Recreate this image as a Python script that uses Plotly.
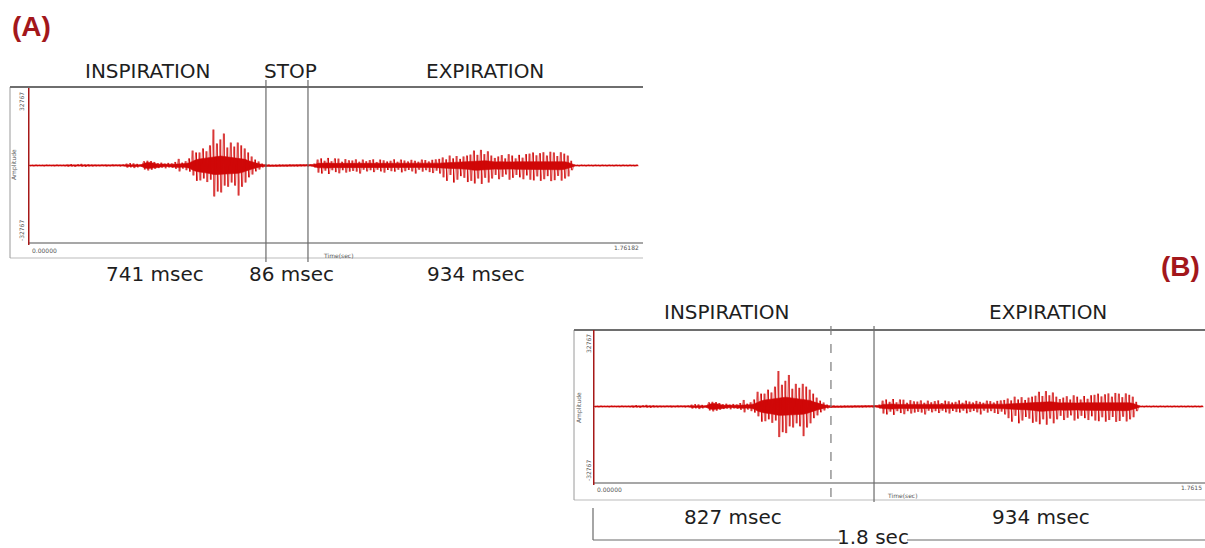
import plotly.graph_objects as go

# ---------------- data ----------------
# Breath-sound recording, in thousands of amplitude units,
# one entry per 10 ms bin: upper / lower spike extremes and the dense core amplitude.
bin_sec = 0.01
t_end = 1.76182
amp_max = 32.767  # thousands (32767)

upper = [
    0.2, 0.2, 0.3, 0.2, 0.2, 0.3, 0.2, 0.2, 0.3, 0.2, 0.2,
    0.4, 0.6, 0.3, 0.5, 0.7, 0.4, 0.5, 0.3,
    0.3, 0.2, 0.3, 0.3, 0.2, 0.4, 0.3, 0.3, 0.4,
    0.8, 1.0, 0.9, 0.7,
    0.4,
    1.8, 2.0, 1.9, 1.5,
    1.0, 1.2, 0.8, 1.1, 0.9,
    1.5, 2.8, 1.2, 1.8, 3.0,
    6.3, 5.5, 5.5, 7.2, 6.0, 8.5, 15.2, 9.3, 11.0, 13.5, 7.6, 9.7, 8.0, 9.7, 8.5, 7.2, 5.5, 3.8, 2.5, 1.7, 0.8,
    0.3, 0.4, 0.3, 0.3, 0.4, 0.3, 0.3, 0.4, 0.3, 0.3, 0.4, 0.3, 0.3, 0.4,
    0.8,
    2.5, 3.0, 2.0, 3.2, 1.8, 3.0, 2.9, 1.6, 2.7, 2.2,
    2.1, 2.6, 1.6, 2.5, 1.8, 2.3, 2.6, 1.5, 2.5, 2.2, 1.7, 2.0, 2.6, 1.6, 2.5, 2.1, 1.7, 2.4, 2.0, 1.6, 2.5, 2.3, 1.7, 2.4, 2.6, 2.8,
    3.4, 2.6, 4.2, 3.0, 4.0, 2.8, 3.8, 4.2, 4.6,
    6.3, 4.5, 6.6, 4.8, 6.0,
    4.2, 3.2, 3.8, 4.4, 3.0, 4.8, 4.2, 3.0, 4.5, 3.3, 4.8, 5.0,
    5.5, 4.3, 5.2, 5.6, 4.2, 5.8, 5.5, 4.0, 5.6, 5.0, 4.2,
    2.0,
    0.3, 0.2, 0.3, 0.2, 0.3, 0.2, 0.3, 0.2, 0.3, 0.2, 0.3, 0.2, 0.3, 0.2, 0.3, 0.2, 0.3, 0.2, 0.3,
]
lower = [
    0.2, 0.3, 0.2, 0.2, 0.3, 0.2, 0.2, 0.3, 0.2, 0.2, 0.3,
    0.5, 0.4, 0.6, 0.3, 0.5, 0.6, 0.4, 0.4,
    0.3, 0.3, 0.2, 0.4, 0.3, 0.3, 0.2, 0.4, 0.3,
    0.9, 0.8, 1.1, 0.8,
    0.4,
    1.7, 2.1, 1.8, 1.4,
    1.1, 0.9, 1.2, 0.8, 1.0,
    1.4, 2.5, 1.3, 2.0, 2.6,
    4.2, 6.5, 6.3, 5.5, 7.0, 6.0, 13.1, 11.0, 11.4, 8.5, 9.0, 7.2, 8.5, 12.7, 9.0, 7.2, 5.0, 3.8, 2.5, 1.7, 0.8,
    0.4, 0.3, 0.3, 0.4, 0.3, 0.3, 0.4, 0.3, 0.3, 0.4, 0.3, 0.3, 0.4, 0.3,
    0.8,
    3.0, 3.4, 2.2, 3.6, 2.0, 2.8, 3.3, 2.0, 3.0, 2.6,
    2.3, 2.6, 3.4, 1.8, 2.5, 2.0, 2.8, 1.8, 2.5, 3.0, 1.9, 2.4, 2.6, 1.8, 2.9, 2.4, 1.9, 2.5, 3.4, 1.8, 2.6, 2.0, 2.8, 3.2, 2.2, 3.4,
    5.0, 6.5, 4.0, 7.2, 6.0, 4.5, 5.2, 7.0, 6.5,
    7.6, 5.5, 7.8, 5.2, 7.2,
    5.5, 4.0, 5.8, 4.8, 3.8, 6.0, 5.2, 4.0, 5.0, 5.8, 4.2, 6.0,
    6.3, 4.6, 6.5, 5.8, 4.5, 6.6, 6.2, 4.4, 6.4, 5.5, 4.6,
    2.0,
    0.2, 0.3, 0.2, 0.3, 0.2, 0.3, 0.2, 0.3, 0.2, 0.3, 0.2, 0.3, 0.2, 0.3, 0.2, 0.3, 0.2, 0.3, 0.2,
]
core = [
    0.2, 0.2, 0.2, 0.2, 0.2, 0.2, 0.2, 0.2, 0.2, 0.2, 0.2,
    0.3, 0.3, 0.3, 0.3, 0.3, 0.3, 0.3, 0.3,
    0.2, 0.2, 0.2, 0.2, 0.2, 0.2, 0.2, 0.2, 0.2,
    0.4, 0.5, 0.5, 0.4,
    0.3,
    1.0, 1.3, 1.2, 0.8,
    0.5, 0.6, 0.4, 0.5, 0.5,
    0.6, 0.8, 0.6, 0.8, 1.2,
    2.0, 2.5, 2.8, 3.0, 3.2, 3.4, 3.8, 3.8, 4.0, 3.8, 3.6, 3.6, 3.4, 3.3, 3.0, 2.6, 2.0, 1.5, 1.0, 0.7, 0.4,
    0.2, 0.2, 0.2, 0.2, 0.2, 0.2, 0.2, 0.2, 0.2, 0.2, 0.2, 0.2, 0.2, 0.2,
    0.4,
    0.9, 1.0, 0.9, 1.1, 0.9, 0.9, 1.0, 0.8, 0.9, 0.8,
    0.7, 0.8, 0.8, 0.7, 0.8, 0.8, 0.7, 0.8, 0.8, 0.8, 0.7, 0.8, 0.8, 0.7, 0.8, 0.8, 0.8, 0.7, 0.8, 0.8, 0.8, 0.8, 0.8, 0.8, 0.9, 1.0,
    1.1, 1.2, 1.3, 1.3, 1.4, 1.4, 1.5, 1.6, 1.7,
    2.0, 2.0, 2.2, 2.0, 1.9,
    1.6, 1.5, 1.6, 1.5, 1.6, 1.6, 1.5, 1.6, 1.6, 1.6, 1.7, 1.8,
    1.8, 1.9, 1.8, 1.9, 1.8, 1.9, 1.8, 1.8, 1.8, 1.6, 1.3,
    0.7,
    0.2, 0.2, 0.2, 0.2, 0.2, 0.2, 0.2, 0.2, 0.2, 0.2, 0.2, 0.2, 0.2, 0.2, 0.2, 0.2, 0.2, 0.2, 0.2,
]

# phase boundaries (seconds)
bounds_A = [0.685, 0.806]          # inspiration end, stop end
bounds_B = [0.685, 0.809]          # dashed, solid

labels_A_top = ["INSPIRATION", "STOP", "EXPIRATION"]
labels_A_bot = ["741 msec", "86 msec", "934 msec"]
labels_B_top = ["INSPIRATION", "EXPIRATION"]
labels_B_bot = ["827 msec", "934 msec"]
total_B = "1.8 sec"

# ---------------- figure ----------------
W, H = 1205, 548
WAVE = "#d00808"
AXRED = "#a61818"
TXT = "#1e1e1e"
FONT = "DejaVu Sans"


def px(x):
    return x / W


def py(y):
    return 1 - y / H


vx, vy = [], []          # min/max strokes per bin
zx, zy = [], []          # zig-zag between extremes
cx_top, cy_top = [], []  # dense core outline
for i, (u, d, c) in enumerate(zip(upper, lower, core)):
    t0 = i * bin_sec
    tc = t0 + 0.5 * bin_sec
    vx += [tc, tc, None]
    vy += [u, -d, None]
    zx += [t0 + 0.25 * bin_sec, t0 + 0.75 * bin_sec]
    zy += [u, -d]
    cx_top.append(tc)
    cy_top.append(c)
cx = cx_top + cx_top[::-1]
cy = cy_top + [-v for v in cy_top[::-1]]

fig = go.Figure()
for xa, ya in [("x", "y"), ("x2", "y2")]:
    fig.add_trace(go.Scatter(x=cx, y=cy, mode="lines", xaxis=xa, yaxis=ya, fill="toself",
                             fillcolor=WAVE, line=dict(color=WAVE, width=0.6),
                             hoverinfo="skip", showlegend=False))
    fig.add_trace(go.Scatter(x=zx, y=zy, mode="lines", xaxis=xa, yaxis=ya,
                             line=dict(color="rgba(208,8,8,0.75)", width=0.7), hoverinfo="skip",
                             showlegend=False))
    fig.add_trace(go.Scatter(x=vx, y=vy, mode="lines", xaxis=xa, yaxis=ya,
                             line=dict(color=WAVE, width=1), hoverinfo="skip",
                             showlegend=False, connectgaps=False))

ax_common = dict(visible=False, showgrid=False, zeroline=False, fixedrange=True)
fig.update_layout(
    width=W, height=H, margin=dict(l=0, r=0, t=0, b=0),
    paper_bgcolor="white", plot_bgcolor="rgba(0,0,0,0)",
    xaxis=dict(domain=[px(28), px(640)], range=[0, t_end], anchor="y", **ax_common),
    yaxis=dict(domain=[py(243), py(88)], range=[-amp_max, amp_max], anchor="x", **ax_common),
    xaxis2=dict(domain=[px(593), px(1205)], range=[0, t_end], anchor="y2", **ax_common),
    yaxis2=dict(domain=[py(483), py(330)], range=[-amp_max, amp_max], anchor="x2", **ax_common),
    showlegend=False,
)

shapes = []


def pline(x0, y0, x1, y1, color, width, dash="solid"):
    shapes.append(dict(type="line", xref="paper", yref="paper",
                       x0=px(x0), y0=py(y0), x1=px(x1), y1=py(y1),
                       line=dict(color=color, width=width, dash=dash)))


def tline(xref, t, y0, y1, color, width, dash="solid"):
    shapes.append(dict(type="line", xref=xref, yref="paper",
                       x0=t, x1=t, y0=py(y0), y1=py(y1),
                       line=dict(color=color, width=width, dash=dash)))


# ---- panel A frame ----
pline(10, 258, 643, 258, "#dddddd", 2)
pline(10, 87, 10, 258, "#9a9a9a", 1)
pline(10, 87, 643, 87, "#6e6e6e", 2)
pline(28, 243, 643, 243, "#8a8a8a", 1.5)
tline("x", 0, 88, 245, AXRED, 3)
for b in bounds_A:
    tline("x", b, 80, 262, "#6a6a6a", 1.2)

# ---- panel B frame ----
pline(574, 500, 1205, 500, "#dddddd", 2)
pline(574, 330, 574, 500, "#9a9a9a", 1)
pline(574, 330, 1205, 330, "#6e6e6e", 2)
pline(593, 483, 1205, 483, "#8a8a8a", 1.5)
tline("x2", 0, 330, 485, AXRED, 3)
tline("x2", bounds_B[0], 326, 505, "#7a7a7a", 1.2, "dash")
tline("x2", bounds_B[1], 326, 502, "#6a6a6a", 1.2)
# 1.8 sec bracket
pline(593, 508, 593, 540, "#6a6a6a", 1.2)
pline(593, 540, 840, 540, "#6a6a6a", 1.2)
pline(907, 540, 1205, 540, "#6a6a6a", 1.2)

fig.update_layout(shapes=shapes)

ann = []


def text(x, y, s, size, color=TXT, bold=False, xanchor="center", angle=0, family=FONT):
    ann.append(dict(x=px(x), y=py(y), xref="paper", yref="paper", text=("<b>%s</b>" % s) if bold else s,
                    showarrow=False, xanchor=xanchor, yanchor="middle", textangle=angle,
                    font=dict(size=size, color=color, family=family)))


# panel A texts
text(31, 26, "(A)", 28, color="#a3171b", bold=True, family="Liberation Sans")
for s, x in zip(labels_A_top, [148, 290, 485]):
    text(x, 71, s, 20)
for s, x in zip(labels_A_bot, [155, 291, 476]):
    text(x, 274, s, 20)
text(30, 250, "0.00000", 6, color="#555", xanchor="left")
text(641, 247, "1.76182", 6, color="#555", xanchor="right")
text(321, 255, "Time(sec)", 6, color="#555", xanchor="left")
text(21, 102, "32767", 6, color="#555", angle=-90)
text(21, 231, "-32767", 6, color="#555", angle=-90)
text(14, 165, "Amplitude", 6, color="#555", angle=-90)

# panel B texts
text(1180, 266, "(B)", 28, color="#a3171b", bold=True, family="Liberation Sans")
for s, x in zip(labels_B_top, [727, 1048]):
    text(x, 312, s, 20)
for s, x in zip(labels_B_bot, [733, 1041]):
    text(x, 517, s, 20)
text(873, 537, total_B, 20)
text(595, 489, "0.00000", 6, color="#555", xanchor="left")
text(1204, 487, "1.7615", 6, color="#555", xanchor="right")
text(885, 495, "Time(sec)", 6, color="#555", xanchor="left")
text(588, 344, "32767", 6, color="#555", angle=-90)
text(588, 471, "-32767", 6, color="#555", angle=-90)
text(579, 408, "Amplitude", 6, color="#555", angle=-90)

fig.update_layout(annotations=ann)

fig.write_html("out.html", config={"displayModeBar": False},
               post_script="document.body.style.margin='0';document.body.style.overflow='hidden';")
